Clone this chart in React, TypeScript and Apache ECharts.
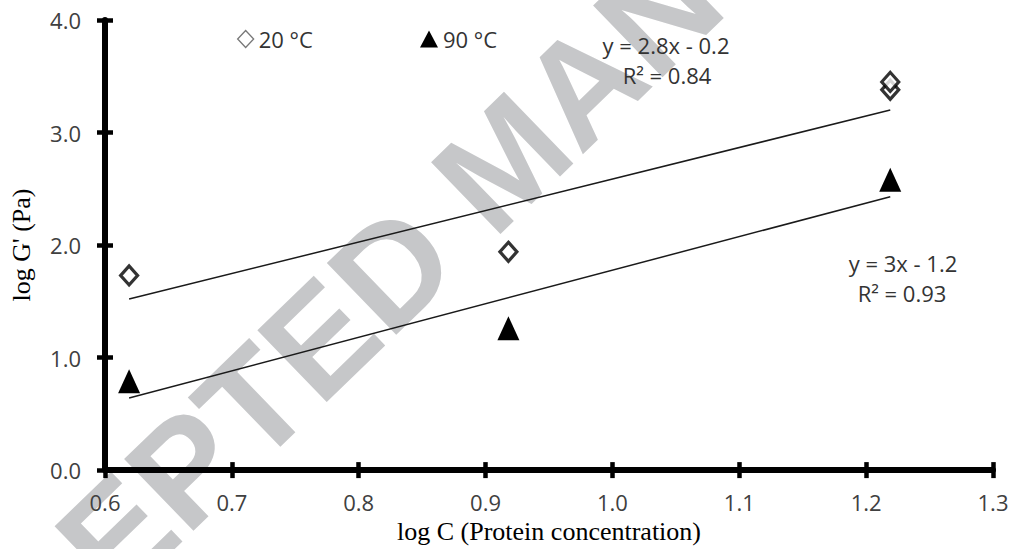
import React, { useEffect, useRef } from "react";
import * as echarts from "echarts";

// Data
const x20 = [0.619, 0.918, 1.219, 1.219];
const y20 = [1.73, 1.94, 3.38, 3.45];
const x90 = [0.619, 0.918, 1.219];
const y90 = [0.79, 1.26, 2.58];
const trendX = [0.619, 1.219];
const trend20Y = [1.52, 3.2];
const trend90Y = [0.64, 2.43];
const seriesNames = ["20 °C", "90 °C"];
const eq20 = ["y = 2.8x - 0.2", "R² = 0.84"];
const eq90 = ["y = 3x - 1.2", "R² = 0.93"];
const xName = "log C (Protein concentration)";
const yName = "log G' (Pa)";
const watermark = "ACCEPTED MANUSCRIPT";

const SANS = "Open Sans";
const SERIF = "Liberation Serif";

export default function App() {
  const ref = useRef<HTMLDivElement>(null);
  useEffect(() => {
    if (!ref.current) return;
    const chart = echarts.init(ref.current, null, { renderer: "svg" });
    const fmt = (v: number) => v.toFixed(1);
    const tickStyle = { color: "#000", width: 4.5 };
    const axisLineStyle = { color: "#000", width: 6 };
    const option: any = {
      animation: false,
      backgroundColor: "#fff",
      grid: { left: 104, right: 23, top: 20, bottom: 77, containLabel: false },
      xAxis: [
        {
          type: "value",
          min: 0.6,
          max: 1.3,
          interval: 0.1,
          position: "bottom",
          splitLine: { show: false },
          axisLine: { show: true, onZero: false, lineStyle: axisLineStyle },
          axisTick: { show: true, inside: false, length: 8, lineStyle: tickStyle },
          axisLabel: { formatter: fmt, margin: 21, color: "#404040", fontSize: 22, fontFamily: SANS },
          name: xName,
          nameLocation: "middle",
          nameGap: 47,
          nameTextStyle: { fontFamily: SERIF, fontSize: 26, color: "#000" },
        },
        {
          type: "value",
          min: 0.6,
          max: 1.3,
          interval: 0.1,
          position: "bottom",
          splitLine: { show: false },
          axisLine: { show: false, onZero: false },
          axisTick: { show: true, inside: true, length: 8, lineStyle: tickStyle },
          axisLabel: { show: false },
        },
      ],
      yAxis: [
        {
          type: "value",
          min: 0,
          max: 4,
          interval: 1,
          position: "left",
          splitLine: { show: false },
          axisLine: { show: true, onZero: false, lineStyle: axisLineStyle },
          axisTick: { show: true, inside: false, length: 8, lineStyle: tickStyle },
          axisLabel: { formatter: fmt, margin: 24, color: "#404040", fontSize: 22, fontFamily: SANS },
          name: yName,
          nameLocation: "middle",
          nameGap: 71,
          nameTextStyle: { fontFamily: SERIF, fontSize: 26, color: "#000" },
        },
        {
          type: "value",
          min: 0,
          max: 4,
          interval: 1,
          position: "left",
          splitLine: { show: false },
          axisLine: { show: false, onZero: false },
          axisTick: { show: true, inside: true, length: 8, lineStyle: tickStyle },
          axisLabel: { show: false },
        },
      ],
      legend: [
        {
          data: [
            {
              name: seriesNames[0],
              icon: "diamond",
              itemStyle: { color: "#fff", borderColor: "#555", borderWidth: 1.3 },
            },
          ],
          left: 237,
          top: 28,
          padding: 0,
          itemWidth: 16,
          itemHeight: 17,
          selectedMode: false,
          textStyle: { fontSize: 22, fontFamily: SANS, color: "#333" },
        },
        {
          data: [{ name: seriesNames[1], icon: "triangle", itemStyle: { color: "#000" } }],
          left: 420,
          top: 28,
          padding: 0,
          itemWidth: 18,
          itemHeight: 17,
          selectedMode: false,
          textStyle: { fontSize: 22, fontFamily: SANS, color: "#333" },
        },
      ],
      graphic: [
        {
          type: "text",
          x: 505,
          y: 160,
          z: -10,
          rotation: (44 * Math.PI) / 180,
          silent: true,
          style: {
            text: watermark,
            fontSize: 145,
            fontWeight: "bold",
            fontFamily: "Liberation Sans",
            fill: "#c6c7c9",
            align: "center",
            verticalAlign: "middle",
          },
        },
        {
          type: "text",
          x: 666,
          y: 45,
          style: { text: eq20[0], fontSize: 22, fontFamily: SANS, fill: "#333", align: "center", verticalAlign: "middle" },
        },
        {
          type: "text",
          x: 667,
          y: 75,
          style: { text: eq20[1], fontSize: 22, fontFamily: SANS, fill: "#333", align: "center", verticalAlign: "middle" },
        },
        {
          type: "text",
          x: 903,
          y: 263,
          style: { text: eq90[0], fontSize: 22, fontFamily: SANS, fill: "#333", align: "center", verticalAlign: "middle" },
        },
        {
          type: "text",
          x: 902,
          y: 293,
          style: { text: eq90[1], fontSize: 22, fontFamily: SANS, fill: "#333", align: "center", verticalAlign: "middle" },
        },
      ],
      series: [
        {
          name: "trend20",
          type: "line",
          data: trendX.map((x, i) => [x, trend20Y[i]]),
          symbol: "none",
          lineStyle: { color: "#1a1a1a", width: 1.5 },
          z: 2,
        },
        {
          name: "trend90",
          type: "line",
          data: trendX.map((x, i) => [x, trend90Y[i]]),
          symbol: "none",
          lineStyle: { color: "#1a1a1a", width: 1.5 },
          z: 2,
        },
        {
          name: seriesNames[0],
          type: "scatter",
          symbol: "diamond",
          symbolSize: [17, 19],
          data: x20.map((x, i) => [x, y20[i]]),
          itemStyle: { color: "#fff", borderColor: "#000", borderWidth: 3.2 },
          z: 3,
        },
        {
          name: seriesNames[1],
          type: "scatter",
          symbol: "triangle",
          symbolSize: [22, 24],
          data: x90.map((x, i) => [x, y90[i]]),
          itemStyle: { color: "#000", opacity: 1 },
          z: 3,
        },
      ],
    };
    chart.setOption(option);
    return () => chart.dispose();
  }, []);
  return (
    <div
      ref={ref}
      style={{ position: "absolute", left: 0, top: 0, width: 1016, height: 549 }}
    />
  );
}
